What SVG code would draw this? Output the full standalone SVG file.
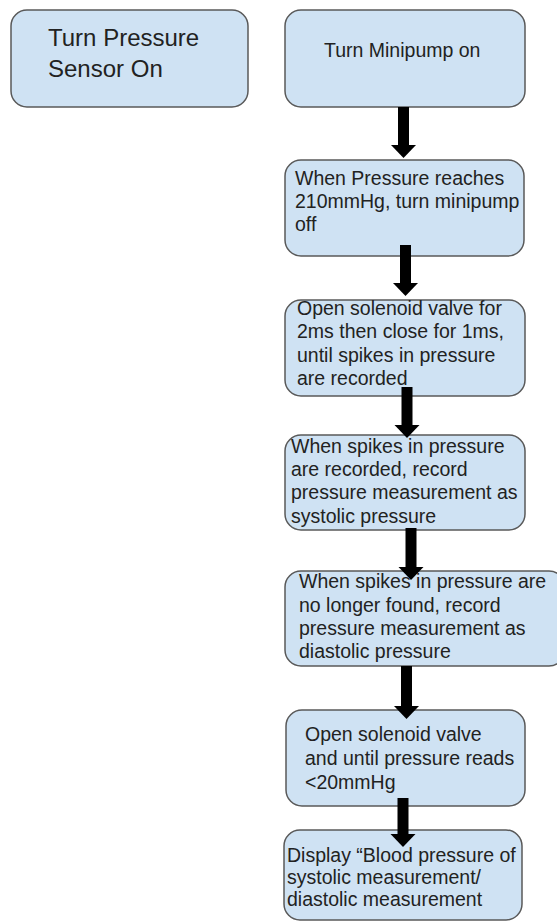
<svg xmlns="http://www.w3.org/2000/svg" width="557" height="923" viewBox="0 0 557 923">
<style>
.box{fill:#cfe2f3;stroke:#595959;stroke-width:1.5}
.t{font-family:"Liberation Sans",Arial,sans-serif;fill:#222;font-size:19.5px}
.big{font-size:24px}
.arr{stroke:#000;stroke-width:11;fill:none;marker-end:url(#head)}
</style>
<defs>
<marker id="head" markerUnits="userSpaceOnUse" markerWidth="14" markerHeight="26" refX="0" refY="12.5" orient="auto">
<path d="M0,0 L13,12.5 L0,25 z" fill="#000"/>
</marker>
</defs>
<rect width="557" height="923" fill="#fff"/>
<g id="n-sensor">
<rect class="box" x="11" y="10" width="237" height="97" rx="16"/>
<text class="t big" x="48" y="46">Turn Pressure</text>
<text class="t big" x="48" y="77">Sensor On</text>
</g>
<g id="n-pump-on">
<rect class="box" x="285" y="10" width="240" height="97" rx="16"/>
<text class="t" x="324" y="57">Turn Minipump on</text>
</g>
<g id="n-pump-off">
<rect class="box" x="285" y="160" width="239" height="96" rx="16"/>
<text class="t" x="295" y="185">When Pressure reaches</text>
<text class="t" x="295" y="208">210mmHg, turn minipump</text>
<text class="t" x="295" y="231">off</text>
</g>
<g id="n-valve">
<rect class="box" x="285" y="300" width="240" height="96" rx="16"/>
<text class="t" x="297" y="315">Open solenoid valve for</text>
<text class="t" x="297" y="338">2ms then close for 1ms,</text>
<text class="t" x="297" y="362">until spikes in pressure</text>
<text class="t" x="297" y="385">are recorded</text>
</g>
<g id="n-systolic">
<rect class="box" x="285" y="435" width="240" height="95" rx="16"/>
<text class="t" x="291" y="453">When spikes in pressure</text>
<text class="t" x="291" y="476">are recorded, record</text>
<text class="t" x="291" y="499">pressure measurement as</text>
<text class="t" x="291" y="523">systolic pressure</text>
</g>
<g id="n-diastolic">
<rect class="box" x="285" y="571" width="280" height="95" rx="16"/>
<text class="t" x="299" y="588">When spikes in pressure are</text>
<text class="t" x="299" y="612">no longer found, record</text>
<text class="t" x="299" y="635">pressure measurement as</text>
<text class="t" x="299" y="658">diastolic pressure</text>
</g>
<g id="n-release">
<rect class="box" x="286" y="710" width="239" height="96" rx="16"/>
<text class="t" x="305" y="741">Open solenoid valve</text>
<text class="t" x="305" y="765">and until pressure reads</text>
<text class="t" x="305" y="789">&lt;20mmHg</text>
</g>
<g id="n-display">
<rect class="box" x="284" y="830" width="238" height="90" rx="16"/>
<text class="t" x="287" y="862">Display “Blood pressure of</text>
<text class="t" x="287" y="884">systolic measurement/</text>
<text class="t" x="287" y="906">diastolic measurement</text>
</g>
<g id="connectors">
<line class="arr" x1="403.5" y1="107" x2="403.5" y2="145"/>
<line class="arr" x1="405.5" y1="245" x2="405.5" y2="283"/>
<line class="arr" x1="407" y1="387" x2="407" y2="425"/>
<line class="arr" x1="411" y1="528" x2="411" y2="567"/>
<line class="arr" x1="406.5" y1="666" x2="406.5" y2="706"/>
<line class="arr" x1="403" y1="798" x2="403" y2="834"/>
</g>
</svg>
